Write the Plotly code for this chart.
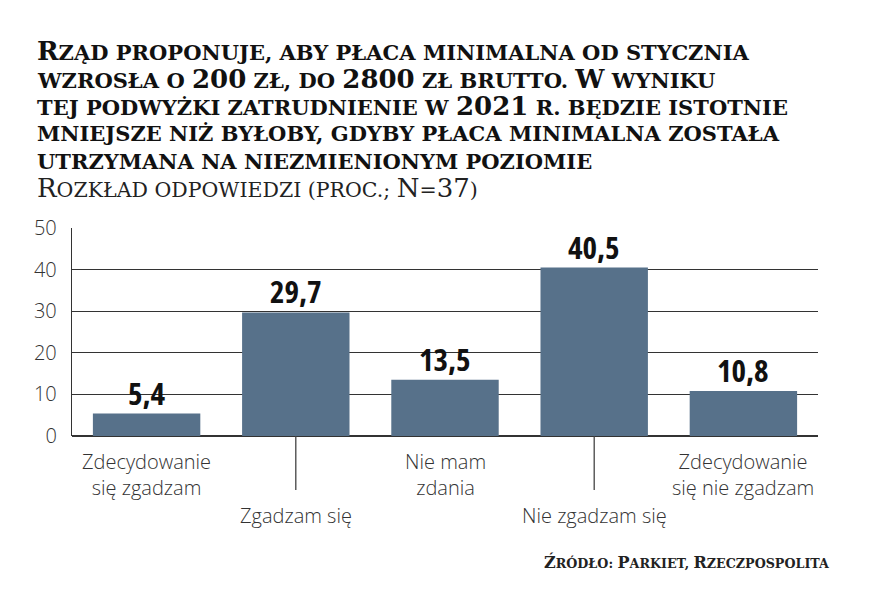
import plotly.graph_objects as go

categories = ["Zdecydowanie<br>się zgadzam", "Zgadzam się", "Nie mam<br>zdania",
              "Nie zgadzam się", "Zdecydowanie<br>się nie zgadzam"]
values = [5.4, 29.7, 13.5, 40.5, 10.8]
value_labels = ["5,4", "29,7", "13,5", "40,5", "10,8"]
tick_vals = [0, 10, 20, 30, 40, 50]

title_lines = [
    "Rząd proponuje, aby płaca minimalna od stycznia",
    "wzrosła o 200 zł, do 2800 zł brutto. W wyniku",
    "tej podwyżki zatrudnienie w 2021 r. będzie istotnie",
    "mniejsze niż byłoby, gdyby płaca minimalna została",
    "utrzymana na niezmienionym poziomie",
]
subtitle = "Rozkład odpowiedzi (proc.; N=37)"
source = "Źródło: Parkiet, Rzeczpospolita"

BAR = "#57718a"
INK = "#222222"
SERIF = "DejaVu Serif"
OFF = 8  # page body margin offset
W, H = 870 - OFF, 593 - OFF
L, T = 72 - OFF, 228 - OFF
R = 870 - 818
B = 593 - 436
pw, ph = W - L - R, H - T - B


def px_x(x):
    return (x - OFF - L) / pw


def px_y(y):
    return (H - (y - OFF) - B) / ph


def small_caps(text, big, small, weight):
    out = []
    for ch in text:
        if ch.isupper() or ch.isdigit():
            sz, c = big, ch
        elif ch.isalpha():
            sz, c = small, ch.upper()
        else:
            sz, c = small, ch
        out.append(f"<span style='font-family:{SERIF};font-weight:{weight};font-size:{sz}px'>{c}</span>")
    return "".join(out)


x_idx = list(range(len(categories)))

fig = go.Figure()
fig.add_trace(go.Bar(x=x_idx, y=values, marker=dict(color=BAR, line=dict(width=0)),
                     width=0.72, hoverinfo="skip"))

ann = []
for i, (v, t) in enumerate(zip(values, value_labels)):
    ann.append(dict(x=i, y=v, xref="x", yref="y",
                    text=f"<span style='font-stretch:75%'>{t}</span>", showarrow=False,
                    yanchor="bottom", yshift=-2,
                    font=dict(family="Open Sans", size=31, color="#111", weight=700)))

cat_font = dict(family="Open Sans", size=20, color="#333", weight=300)
for i, c in enumerate(categories):
    yp = 446 if i % 2 == 0 else 500
    ann.append(dict(x=i, y=px_y(yp), xref="x", yref="paper", text=c, showarrow=False,
                    yanchor="top", font=cat_font))

for k, line in enumerate(title_lines):
    ann.append(dict(x=px_x(35), y=px_y(51 + k * 27.5), xref="paper", yref="paper",
                    text=small_caps(line, 26, 21, "bold"), showarrow=False,
                    xanchor="left", yanchor="middle",
                    font=dict(family=SERIF, size=21, color="#111", weight="bold")))
ann.append(dict(x=px_x(35), y=px_y(188), xref="paper", yref="paper",
                text=small_caps(subtitle, 26, 20.5, "normal"), showarrow=False,
                xanchor="left", yanchor="middle",
                font=dict(family=SERIF, size=20.5, color=INK)))
ann.append(dict(x=px_x(831), y=px_y(562), xref="paper", yref="paper",
                text=small_caps(source, 16, 12.7, "bold"), showarrow=False,
                xanchor="right", yanchor="middle",
                font=dict(family=SERIF, size=12.7, color=INK, weight="bold")))

shapes = []
for i in x_idx:
    if i % 2 == 1:
        shapes.append(dict(type="line", xref="x", yref="paper", x0=i, x1=i,
                           y0=0, y1=px_y(490), line=dict(color="#444", width=1.3)))

fig.update_layout(
    width=W, height=H, margin=dict(l=L, r=R, t=T, b=B),
    paper_bgcolor="white", plot_bgcolor="white", showlegend=False,
    annotations=ann, shapes=shapes,
    bargap=0.28,
    xaxis=dict(range=[-0.5, 4.5], showticklabels=False, showgrid=False, zeroline=False,
               showline=False, ticks=""),
    yaxis=dict(range=[0, 50], tickvals=tick_vals, showgrid=True, gridcolor="#333", gridwidth=1.4,
               zeroline=True, zerolinecolor="#333", zerolinewidth=1.5,
               showline=True, linecolor="#333", linewidth=1.4, ticks="",
               tickfont=dict(family="Open Sans", size=20, color="#333", weight=300),
               ticklabelstandoff=10),
)
fig.write_html("out.html")
